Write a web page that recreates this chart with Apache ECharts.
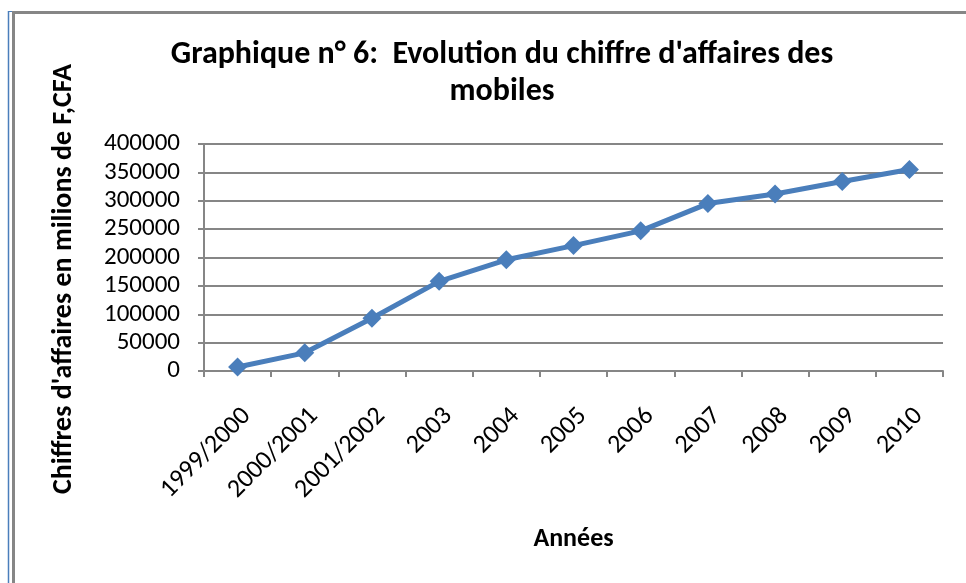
<!DOCTYPE html>
<html>
<head>
<meta charset="utf-8">
<title>Evolution du chiffre d'affaires des mobiles</title>
<script src="https://cdn.jsdelivr.net/npm/echarts@6/dist/echarts.min.js"></script>
<style>
  html, body { margin: 0; padding: 0; background: #fff; }
  #chartDiv { width: 966px; height: 583px; }
</style>
</head>
<body>
<div id="chartDiv"></div>
<script>
// données
var annees = ['1999/2000', '2000/2001', '2001/2002', '2003', '2004', '2005',
              '2006', '2007', '2008', '2009', '2010'];
var chiffreAffaires = [7000, 32000, 93000, 158000, 196000, 221000,
                       247000, 295000, 312000, 334000, 355000];
var yTicks = { min: 0, max: 400000, interval: 50000 };

var FONT = 'Carlito, Calibri, Lato, sans-serif';

var myChart = echarts.init(document.getElementById('chartDiv'));

var option = {
    backgroundColor: '#fff',
    animation: false,
    title: {
        text: "Graphique n° 6:  Evolution du chiffre d'affaires des\nmobiles",
        left: 502,
        top: 36,
        textAlign: 'center',
        padding: 0,
        textStyle: {
            fontFamily: FONT,
            fontWeight: 'bold',
            fontSize: 32,
            lineHeight: 37,
            color: '#000'
        }
    },
    grid: {
        left: 204,
        right: 23,
        top: 144,
        bottom: 212,
        containLabel: false,
        outerBoundsMode: 'none'
    },
    xAxis: {
        type: 'category',
        data: annees,
        boundaryGap: true,
        name: 'Années',
        nameLocation: 'middle',
        nameGap: 155,
        nameTextStyle: {
            fontFamily: FONT,
            fontWeight: 'bold',
            fontSize: 26,
            color: '#000'
        },
        axisLine: { lineStyle: { color: '#868686', width: 2 } },
        axisTick: { show: true, length: 6, lineStyle: { color: '#868686', width: 2 } },
        axisLabel: {
            rotate: 45,
            margin: 32,
            interval: 0,
            verticalAlign: 'top',
            fontFamily: FONT,
            fontSize: 26,
            color: '#000'
        },
        splitLine: { show: false }
    },
    yAxis: {
        type: 'value',
        min: yTicks.min,
        max: yTicks.max,
        interval: yTicks.interval,
        name: "Chiffres d'affaires en milions de F,CFA",
        nameLocation: 'middle',
        nameRotate: 90,
        nameGap: 126,
        nameTextStyle: {
            fontFamily: FONT,
            fontWeight: 'bold',
            fontSize: 28,
            color: '#000',
            padding: [0, 43, 0, 0]
        },
        axisLine: { show: true, lineStyle: { color: '#868686', width: 2 } },
        axisTick: { show: true, length: 6, lineStyle: { color: '#868686', width: 2 } },
        axisLabel: {
            margin: 24,
            fontFamily: FONT,
            fontSize: 25,
            color: '#000',
            formatter: function (v) { return String(v); }
        },
        splitLine: { show: true, lineStyle: { color: '#868686', width: 2 } }
    },
    series: [
        {
            name: "Chiffre d'affaires",
            type: 'line',
            data: chiffreAffaires,
            symbol: 'diamond',
            symbolSize: 19,
            lineStyle: { color: '#4A7EBB', width: 5 },
            itemStyle: { color: '#4A7EBB' }
        }
    ],
    graphic: [
        // cadre du graphique
        { type: 'line', shape: { x1: 8.5, y1: 11, x2: 8.5, y2: 583 }, style: { stroke: '#4A7EBB', lineWidth: 1.5 } },
        { type: 'line', shape: { x1: 8, y1: 11.5, x2: 13, y2: 11.5 }, style: { stroke: '#4A7EBB', lineWidth: 1 } },
        { type: 'line', shape: { x1: 13.5, y1: 12, x2: 13.5, y2: 583 }, style: { stroke: '#868686', lineWidth: 3 } },
        { type: 'line', shape: { x1: 12, y1: 12.5, x2: 966, y2: 12.5 }, style: { stroke: '#868686', lineWidth: 3 } }
    ]
};

myChart.setOption(option);
</script>
</body>
</html>
